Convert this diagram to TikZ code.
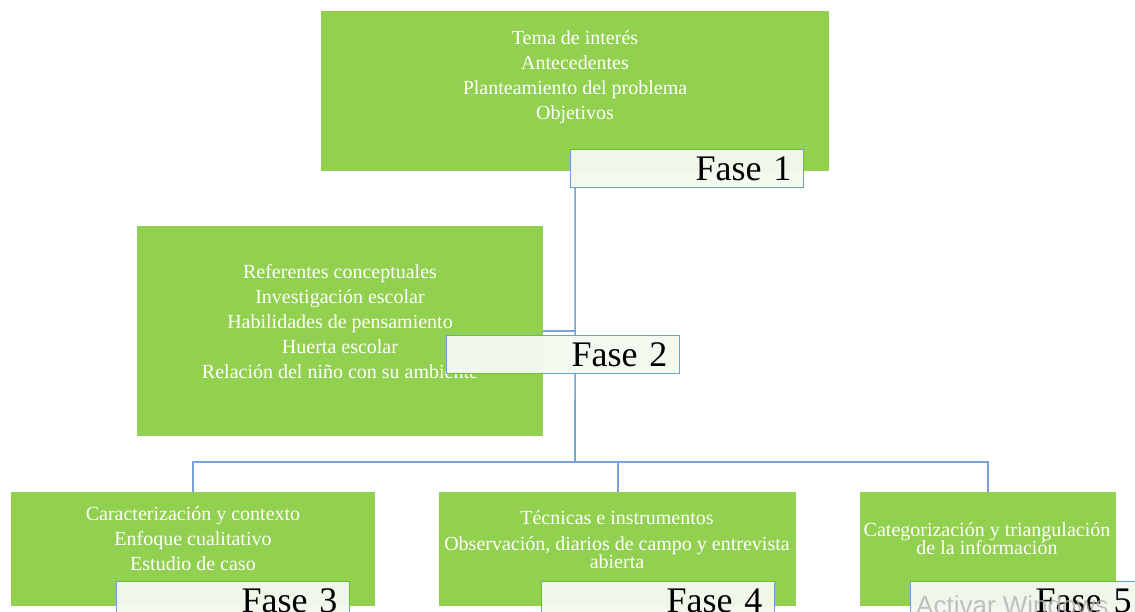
\documentclass[tikz,border=0pt]{standalone}
\usepackage{fontspec}
\setmainfont{Liberation Serif}
\newfontfamily\wmfont{Liberation Sans}
\definecolor{leaf}{HTML}{92D050}
\definecolor{link}{HTML}{79A2D6}
\definecolor{tagedge}{HTML}{6A9FD8}
\definecolor{tagfill}{HTML}{F4F9F0}
\pgfdeclarelayer{bg}
\pgfsetlayers{bg,main}
\begin{document}
\begin{tikzpicture}[x=1pt,y=-1pt,
  phasebox/.style={fill=leaf, draw=none, anchor=north west, inner sep=0pt},
  body/.style={text=white, align=center, inner sep=0pt,
    font=\fontsize{20}{25}\selectfont},
  tag/.style={draw=tagedge, line width=1pt, fill=tagfill, fill opacity=0.97,
    text opacity=1, anchor=north west, minimum height=38pt, inner xsep=12pt,
    inner ysep=0pt, text width=209pt, align=right,
    font=\fontsize{36}{36}\selectfont},
  linkline/.style={draw=link, line width=1.6pt}]
\clip (0,0) rectangle (1135,611);

% phase boxes
\node[phasebox, minimum width=508pt, minimum height=160pt] (p1) at (321,11) {};
\node[phasebox, minimum width=406pt, minimum height=210pt] (p2) at (137,226) {};
\node[phasebox, minimum width=364pt, minimum height=114pt] (p3) at (11,492) {};
\node[phasebox, minimum width=357pt, minimum height=114pt] (p4) at (439,492) {};
\node[phasebox, minimum width=256pt, minimum height=114pt] (p5) at (860,492) {};

% contents
\node[body] (t1) at (575,77) {Tema de interés\\Antecedentes\\Planteamiento del problema\\Objetivos};
\node[body] (t2) at (340,322) {Referentes conceptuales\\Investigación escolar\\Habilidades de pensamiento\\Huerta escolar\\Relación del niño con su ambiente};
\node[body] (t3) at (193,539) {Caracterización y contexto\\Enfoque cualitativo\\Estudio de caso};
\node[body] (t4) at (617,540) {Técnicas e instrumentos\\[1pt]Observación, diarios de campo y entrevista\\[-7pt]abierta};
\node[body] (t5) at (987,539) {Categorización y triangulación\\[-7pt]de la información};

% connectors
\coordinate (hub) at (575,462);
\begin{pgfonlayer}{bg}
  \draw[linkline] (p1.south) -- (hub);
  \draw[linkline] (p2.east) -- (p2.east -| hub);
  \draw[linkline] (hub) -| (p3.north);
  \draw[linkline] (hub) -| (p4.north);
  \draw[linkline] (hub) -| (p5.north);
\end{pgfonlayer}

% phase tags
\node[tag] (f1) at (570,149) {Fase 1};
\node[tag] (f2) at (446,335) {Fase 2};
\node[tag] (f3) at (116,581) {Fase 3};
\node[tag] (f4) at (541,581) {Fase 4};
\node[tag] (f5) at (910,581) {Fase 5};

% system watermark
\node[anchor=base west, inner sep=0pt, text=black!30, text opacity=0.8,
  font=\wmfont\fontsize{26}{26}\selectfont] (wm) at (916,614) {Activar Windows};
\end{tikzpicture}
\end{document}
